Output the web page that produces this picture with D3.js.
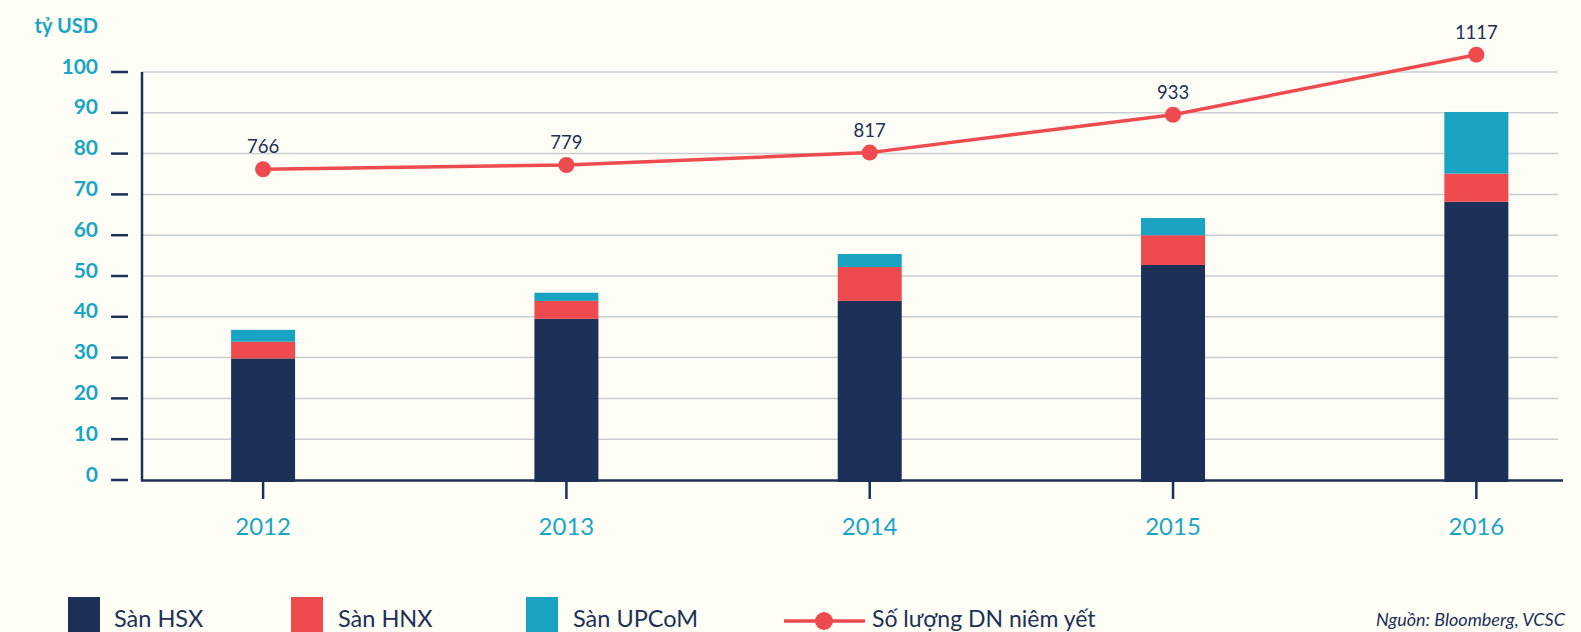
<!DOCTYPE html>
<html>
<head>
<meta charset="utf-8">
<script src="https://cdn.jsdelivr.net/npm/d3@7"></script>
<style>
  html, body { margin: 0; padding: 0; background: #fefef6; }
  svg { display: block; font-family: Lato, "Noto Sans", sans-serif; }
</style>
</head>
<body>
<svg id="chart" width="1581" height="632"></svg>
<script>
// ---- data ----
const years = ["2012", "2013", "2014", "2015", "2016"];
const hsx   = [29.8, 39.5, 43.9, 52.7, 68.2];
const hnx   = [4.1, 4.4, 8.3, 7.3, 6.9];
const upcom = [2.9, 2.0, 3.2, 4.2, 15.1];
const listedCount = [766, 779, 817, 933, 1117];
const yTicks = [0, 10, 20, 30, 40, 50, 60, 70, 80, 90, 100];
const seriesNames = ["Sàn HSX", "Sàn HNX", "Sàn UPCoM"];
const lineName = "Số lượng DN niêm yết";
const unitLabel = "tỷ USD";
const sourceText = "Nguồn: Bloomberg, VCSC";

const colors = { hsx: "#1d3057", hnx: "#ef4b4f", upcom: "#18a3c2", line: "#ef4b4f",
                 axis: "#1d3057", grid: "#c9cdd3", tickText: "#1aa5c5", label: "#1d3057" };

const svg = d3.select("#chart");

const x = d3.scaleBand().domain(years).range([142, 1560])
  .paddingInner(0.789).paddingOuter(0.232).align(0.633);
const y = d3.scaleLinear().domain([0, 100]).range([480, 72]);
const y2 = d3.scaleLinear().domain([-186, 1064]).range([480, 72]);

// gridlines
svg.append("g").selectAll("line").data(yTicks.filter(d => d > 0)).join("line")
  .attr("x1", 142).attr("x2", 1558)
  .attr("y1", d => y(d)).attr("y2", d => y(d))
  .attr("stroke", colors.grid).attr("stroke-width", 1.5);

// y tick dashes + labels
const yAxisG = svg.append("g");
yAxisG.selectAll("line").data(yTicks).join("line")
  .attr("x1", 111).attr("x2", 128)
  .attr("y1", d => y(d)).attr("y2", d => y(d))
  .attr("stroke", colors.axis).attr("stroke-width", 2.5);
yAxisG.selectAll("text").data(yTicks).join("text")
  .attr("x", 98).attr("y", d => y(d) + 1.5)
  .attr("text-anchor", "end")
  .attr("font-size", 21).attr("font-weight", "bold")
  .attr("fill", colors.tickText)
  .text(d => d);
svg.append("text").attr("x", 98).attr("y", 33)
  .attr("text-anchor", "end").attr("font-size", 20).attr("font-weight", "bold")
  .attr("fill", colors.tickText).text(unitLabel);

// stacked bars
const rows = years.map((yr, i) => ({ year: yr, hsx: hsx[i], hnx: hnx[i], upcom: upcom[i] }));
const stack = d3.stack().keys(["hsx", "hnx", "upcom"])(rows);
svg.append("g").selectAll("g").data(stack).join("g")
  .attr("fill", d => colors[d.key])
  .selectAll("rect").data(d => d).join("rect")
  .attr("x", d => x(d.data.year))
  .attr("width", x.bandwidth())
  .attr("y", d => y(d[1]))
  .attr("height", d => y(d[0]) - y(d[1]) + (d[0] === 0 ? 2 : 0));

// axes lines
svg.append("line").attr("x1", 142).attr("x2", 142).attr("y1", 72).attr("y2", 481)
  .attr("stroke", colors.axis).attr("stroke-width", 2.5);
svg.append("line").attr("x1", 141).attr("x2", 1563).attr("y1", 480.5).attr("y2", 480.5)
  .attr("stroke", colors.axis).attr("stroke-width", 2.5);

// x ticks and labels
const xc = d => x(d) + x.bandwidth() / 2;
svg.append("g").selectAll("line").data(years).join("line")
  .attr("x1", xc).attr("x2", xc).attr("y1", 481).attr("y2", 499)
  .attr("stroke", colors.axis).attr("stroke-width", 2.5);
svg.append("g").selectAll("text").data(years).join("text")
  .attr("x", xc).attr("y", 535).attr("text-anchor", "middle")
  .attr("font-size", 24).attr("fill", colors.tickText).text(d => d);

// line series
const pts = years.map((yr, i) => ({ year: yr, v: listedCount[i] }));
svg.append("path").datum(pts)
  .attr("d", d3.line().x(d => xc(d.year)).y(d => y2(d.v)))
  .attr("fill", "none").attr("stroke", colors.line).attr("stroke-width", 3.5);
svg.append("g").selectAll("circle").data(pts).join("circle")
  .attr("cx", d => xc(d.year)).attr("cy", d => y2(d.v)).attr("r", 8)
  .attr("fill", colors.line);
svg.append("g").selectAll("text").data(pts).join("text")
  .attr("x", d => xc(d.year)).attr("y", d => y2(d.v) - 16)
  .attr("text-anchor", "middle").attr("font-size", 18.5)
  .attr("fill", colors.label).text(d => d.v);

// legend
const legend = svg.append("g");
const legItems = [
  { name: seriesNames[0], color: colors.hsx, x: 68, tx: 114 },
  { name: seriesNames[1], color: colors.hnx, x: 291, tx: 338 },
  { name: seriesNames[2], color: colors.upcom, x: 526, tx: 573 }
];
legItems.forEach(it => {
  legend.append("rect").attr("x", it.x).attr("y", 597).attr("width", 32).attr("height", 40)
    .attr("fill", it.color);
  legend.append("text").attr("x", it.tx).attr("y", 627).attr("font-size", 23.5)
    .attr("fill", colors.label).text(it.name);
});
legend.append("line").attr("x1", 784).attr("x2", 865).attr("y1", 621).attr("y2", 621)
  .attr("stroke", colors.line).attr("stroke-width", 3.5);
legend.append("circle").attr("cx", 824).attr("cy", 621).attr("r", 9).attr("fill", colors.line);
legend.append("text").attr("x", 872).attr("y", 627).attr("font-size", 23)
  .attr("fill", colors.label).text(lineName);

svg.append("text").attr("x", 1565).attr("y", 626).attr("text-anchor", "end")
  .attr("font-size", 18).attr("font-style", "italic")
  .attr("fill", colors.label).text(sourceText);
</script>
</body>
</html>
